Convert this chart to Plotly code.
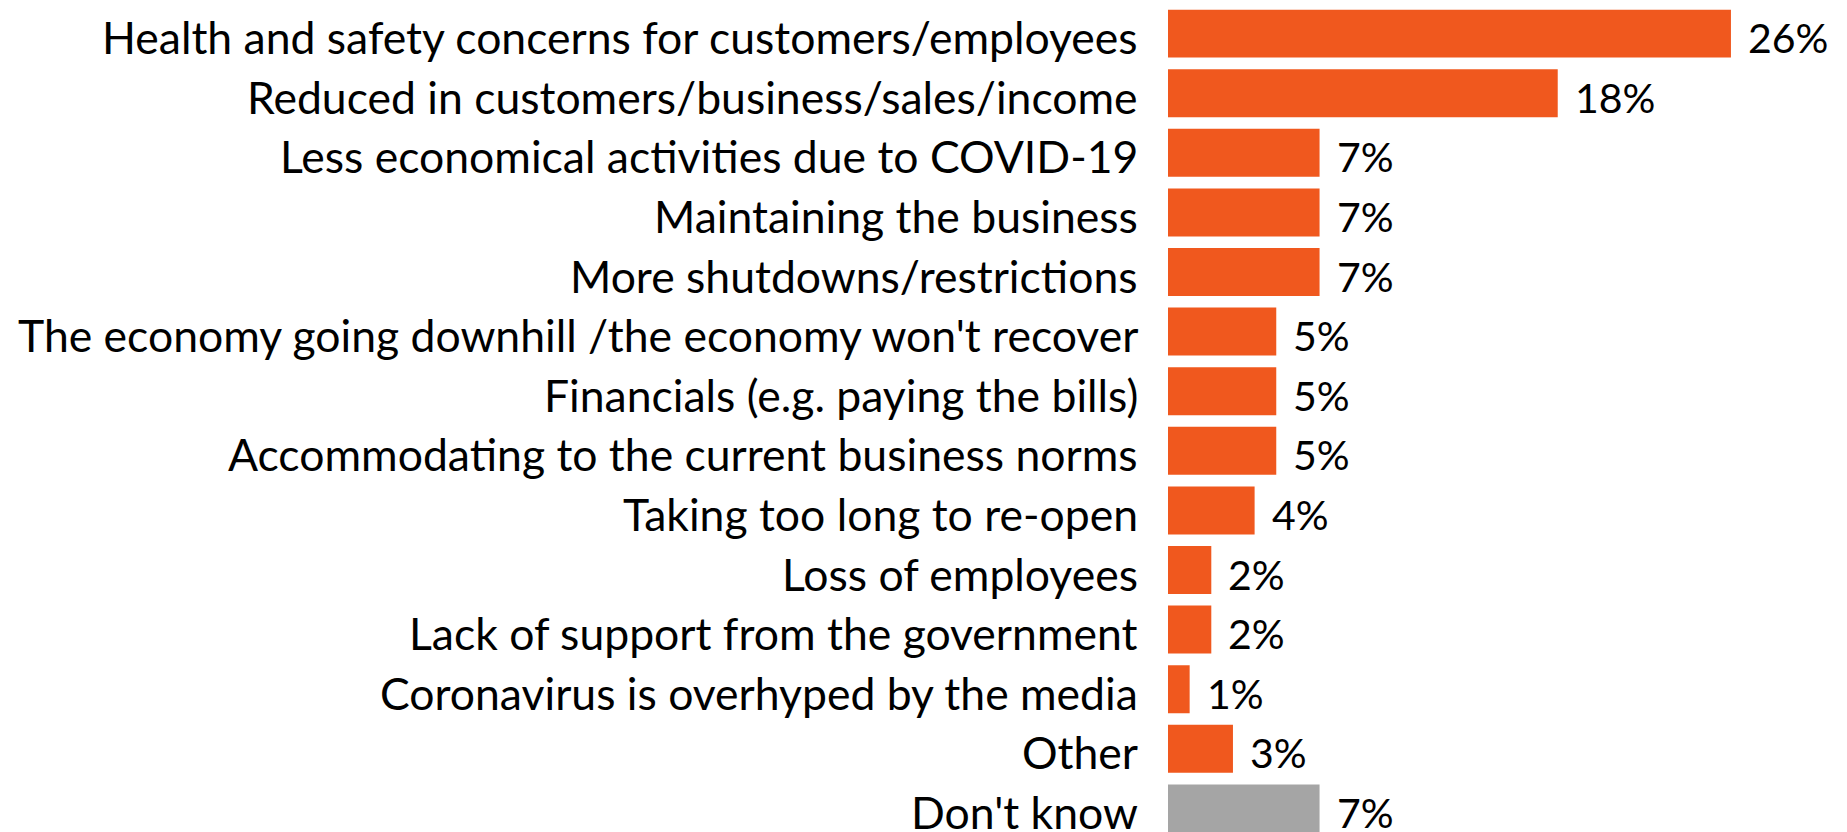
import plotly.graph_objects as go

categories = [
    "Health and safety concerns for customers/employees",
    "Reduced in customers/business/sales/income",
    "Less economical activities due to COVID-19",
    "Maintaining the business",
    "More shutdowns/restrictions",
    "The economy going downhill /the economy won't recover",
    "Financials (e.g. paying the bills)",
    "Accommodating to the current business norms",
    "Taking too long to re-open",
    "Loss of employees",
    "Lack of support from the government",
    "Coronavirus is overhyped by the media",
    "Other",
    "Don't know",
]
values = [26, 18, 7, 7, 7, 5, 5, 5, 4, 2, 2, 1, 3, 7]
labels = [f"{v}%" for v in values]

ORANGE = "#F0581E"
GRAY = "#A5A5A5"
colors = [ORANGE] * (len(categories) - 1) + [GRAY]

FONT = "Lato"
FS = 44.5
FS_VAL = 41

fig = go.Figure(
    go.Bar(
        x=values,
        y=categories,
        orientation="h",
        marker=dict(color=colors, line=dict(width=0)),
        width=0.805,
        hoverinfo="skip",
    )
)

for c, v, t in zip(categories, values, labels):
    fig.add_annotation(
        x=v, y=c, text=t, showarrow=False, xanchor="left", yanchor="middle",
        xshift=15, yshift=-4, font=dict(family=FONT, size=FS_VAL, color="#000000"),
    )
    fig.add_annotation(
        x=0, y=c, text=c, showarrow=False, xanchor="right", yanchor="middle",
        xshift=-28, yshift=-3, font=dict(family=FONT, size=FS, color="#000000"),
    )

fig.update_layout(
    width=1847,
    height=832,
    margin=dict(l=1168, r=0, t=0, b=0),
    paper_bgcolor="white",
    plot_bgcolor="white",
    showlegend=False,
    font=dict(family=FONT, size=FS, color="#000000"),
)
fig.update_xaxes(range=[0, 31.36], visible=False, fixedrange=True)
fig.update_yaxes(
    type="category",
    categoryorder="array",
    categoryarray=categories,
    range=[13.396, -0.564],
    showgrid=False,
    zeroline=False,
    showline=False,
    showticklabels=False,
    ticks="",
    automargin=False,
    fixedrange=True,
)

fig.write_html(
    "out.html",
    config={"displayModeBar": False},
    post_script="document.body.style.margin='0';document.body.style.overflow='hidden';",
)
